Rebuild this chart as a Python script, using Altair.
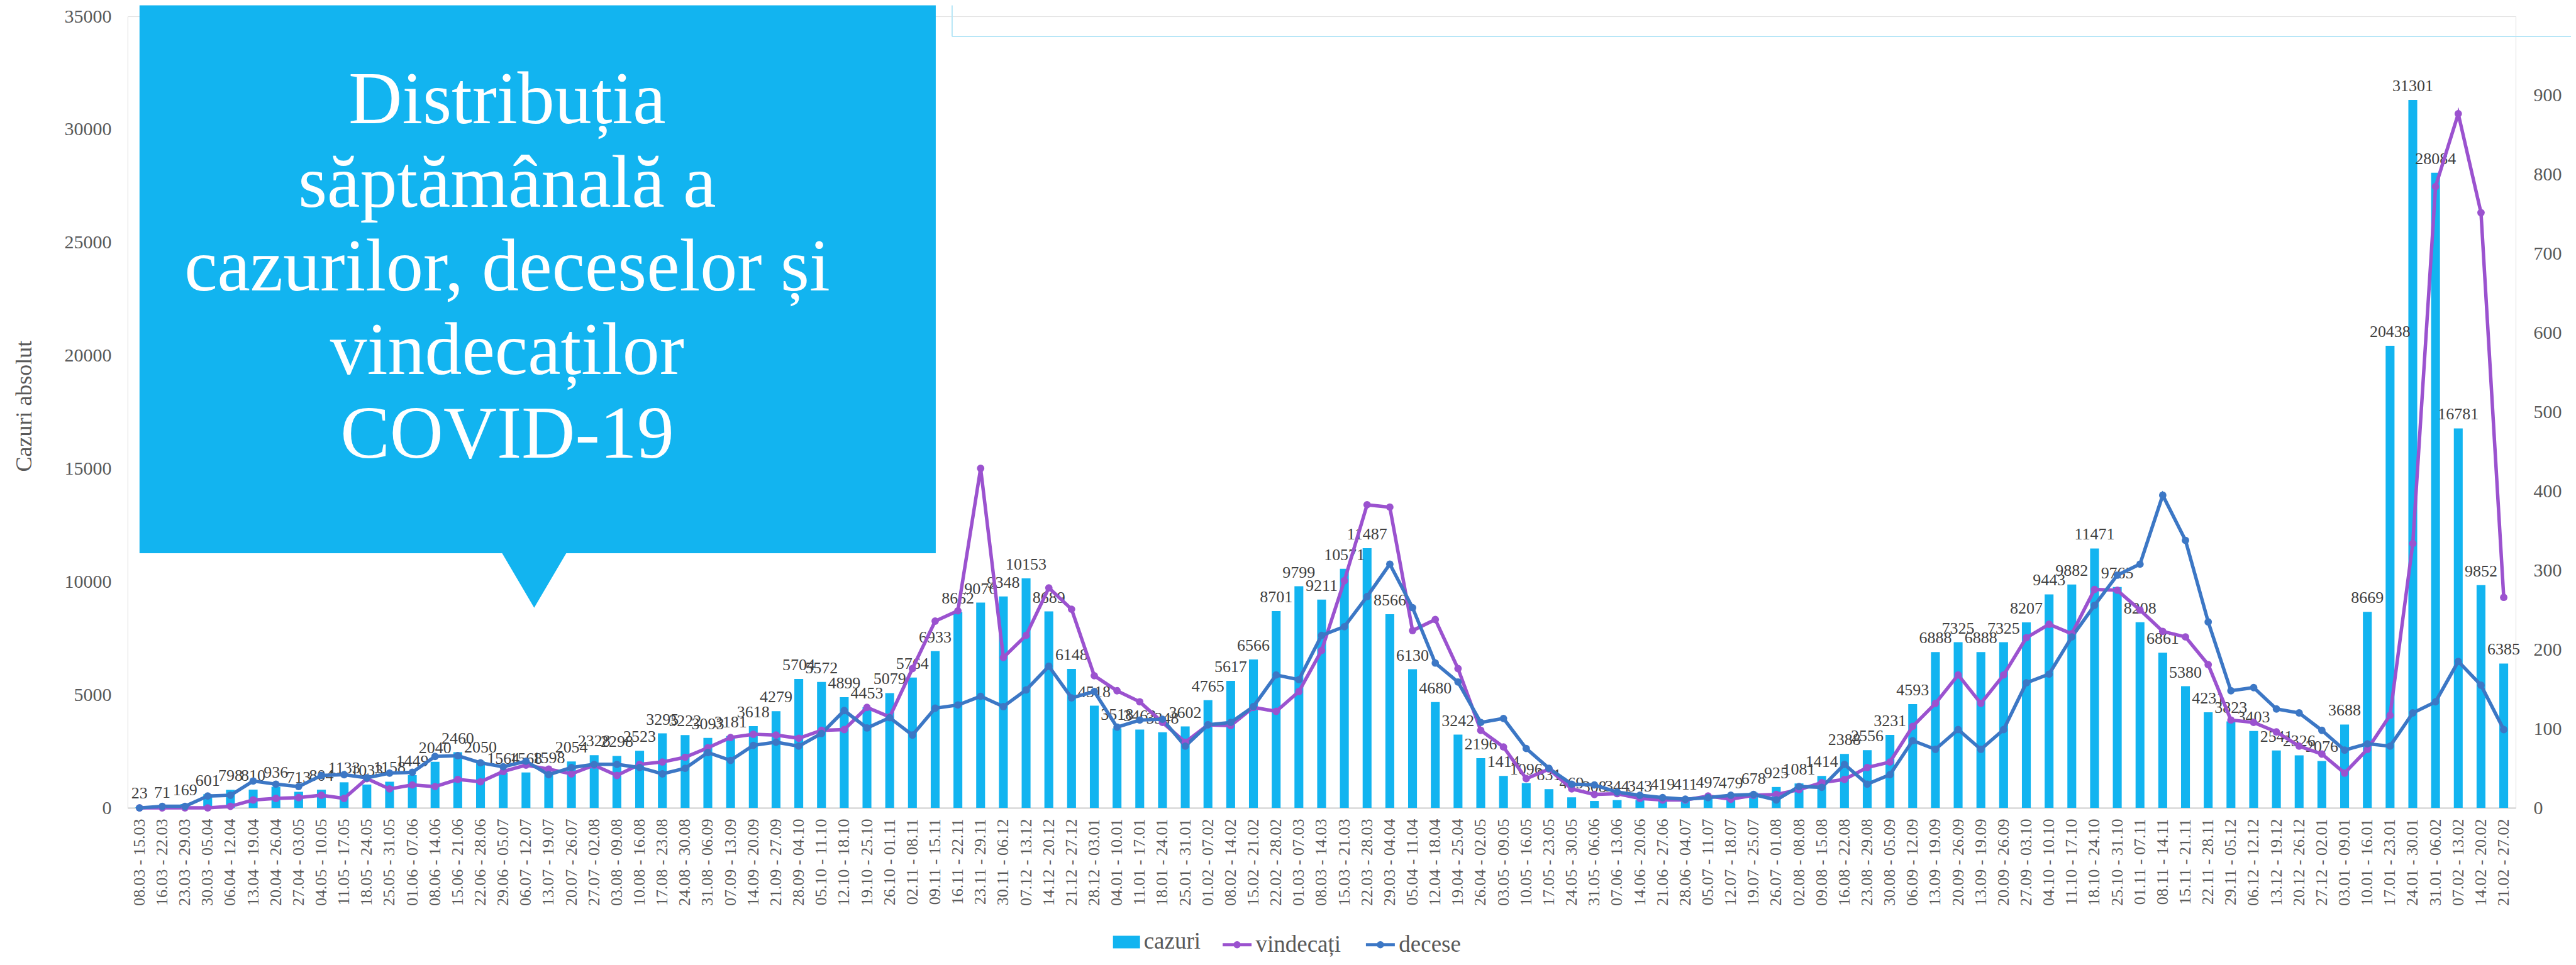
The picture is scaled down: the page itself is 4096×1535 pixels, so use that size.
import altair as alt
import pandas as pd

weeks = [
    "08.03 - 15.03", "16.03 - 22.03", "23.03 - 29.03", "30.03 - 05.04", "06.04 - 12.04",
    "13.04 - 19.04", "20.04 - 26.04", "27.04 - 03.05", "04.05 - 10.05", "11.05 - 17.05",
    "18.05 - 24.05", "25.05 - 31.05", "01.06 - 07.06", "08.06 - 14.06", "15.06 - 21.06",
    "22.06 - 28.06", "29.06 - 05.07", "06.07 - 12.07", "13.07 - 19.07", "20.07 - 26.07",
    "27.07 - 02.08", "03.08 - 09.08", "10.08 - 16.08", "17.08 - 23.08", "24.08 - 30.08",
    "31.08 - 06.09", "07.09 - 13.09", "14.09 - 20.09", "21.09 - 27.09", "28.09 - 04.10",
    "05.10 - 11.10", "12.10 - 18.10", "19.10 - 25.10", "26.10 - 01.11", "02.11 - 08.11",
    "09.11 - 15.11", "16.11 - 22.11", "23.11 - 29.11", "30.11 - 06.12", "07.12 - 13.12",
    "14.12 - 20.12", "21.12 - 27.12", "28.12 - 03.01", "04.01 - 10.01", "11.01 - 17.01",
    "18.01 - 24.01", "25.01 - 31.01", "01.02 - 07.02", "08.02 - 14.02", "15.02 - 21.02",
    "22.02 - 28.02", "01.03 - 07.03", "08.03 - 14.03", "15.03 - 21.03", "22.03 - 28.03",
    "29.03 - 04.04", "05.04 - 11.04", "12.04 - 18.04", "19.04 - 25.04", "26.04 - 02.05",
    "03.05 - 09.05", "10.05 - 16.05", "17.05 - 23.05", "24.05 - 30.05", "31.05 - 06.06",
    "07.06 - 13.06", "14.06 - 20.06", "21.06 - 27.06", "28.06 - 04.07", "05.07 - 11.07",
    "12.07 - 18.07", "19.07 - 25.07", "26.07 - 01.08", "02.08 - 08.08", "09.08 - 15.08",
    "16.08 - 22.08", "23.08 - 29.08", "30.08 - 05.09", "06.09 - 12.09", "13.09 - 19.09",
    "20.09 - 26.09", "13.09 - 19.09", "20.09 - 26.09", "27.09 - 03.10", "04.10 - 10.10",
    "11.10 - 17.10", "18.10 - 24.10", "25.10 - 31.10", "01.11 - 07.11", "08.11 - 14.11",
    "15.11 - 21.11", "22.11 - 28.11", "29.11 - 05.12", "06.12 - 12.12", "13.12 - 19.12",
    "20.12 - 26.12", "27.12 - 02.01", "03.01 - 09.01", "10.01 - 16.01", "17.01 - 23.01",
    "24.01 - 30.01", "31.01 - 06.02", "07.02 - 13.02", "14.02 - 20.02", "21.02 - 27.02",
]

cazuri = [
    23, 71, 169, 601, 798, 810, 936, 713, 804, 1133,
    1033, 1158, 1449, 2040, 2460, 2050, 1564, 1568, 1598, 2054,
    2328, 2298, 2523, 3295, 3222, 3093, 3181, 3618, 4279, 5704,
    5572, 4899, 4453, 5079, 5764, 6933, 8662, 9076, 9348, 10153,
    8689, 6148, 4518, 3518, 3463, 3348, 3602, 4765, 5617, 6566,
    8701, 9799, 9211, 10571, 11487, 8566, 6130, 4680, 3242, 2196,
    1414, 1096, 831, 469, 308, 344, 343, 419, 411, 497,
    479, 678, 925, 1081, 1414, 2388, 2556, 3231, 4593, 6888,
    7325, 6888, 7325, 8207, 9443, 9882, 11471, 9765, 8208, 6861,
    5380, 4231, 3823, 3403, 2541, 2326, 2076, 3688, 8669, 20438,
    31301, 28084, 16781, 9852, 6385,
]

vindecati = [
    0, 0, 0, 0, 2, 10, 12, 13, 16, 12,
    37, 24, 29, 27, 36, 33, 46, 54, 49, 43,
    54, 41, 55, 58, 64, 76, 89, 93, 92, 88,
    98, 99, 127, 115, 176, 236, 249, 429, 190, 218,
    278, 251, 167, 148, 134, 108, 83, 105, 104, 127,
    122, 147, 199, 287, 383, 380, 224, 238, 176, 98,
    77, 37, 49, 24, 17, 18, 12, 10, 10, 15,
    11, 16, 17, 23, 32, 36, 51, 58, 103, 132,
    168, 132, 168, 215, 232, 220, 276, 275, 250, 223,
    216, 181, 111, 108, 96, 78, 68, 44, 74, 117,
    334, 785, 877, 752, 266,
]

decese = [
    0, 2, 2, 15, 16, 34, 30, 27, 41, 42,
    38, 44, 45, 65, 66, 57, 52, 59, 42, 51,
    55, 55, 51, 43, 50, 70, 60, 79, 83, 78,
    94, 123, 101, 114, 92, 126, 130, 141, 128, 149,
    179, 139, 147, 102, 111, 112, 78, 105, 108, 128,
    168, 162, 218, 229, 267, 308, 253, 183, 159, 108,
    113, 75, 50, 30, 29, 20, 16, 13, 11, 13,
    16, 17, 10, 27, 26, 55, 30, 42, 85, 74,
    99, 74, 99, 158, 169, 216, 256, 294, 308, 395,
    338, 235, 148, 152, 125, 120, 98, 73, 81, 78,
    120, 134, 185, 155, 99,
]

bar_series = ["cazuri"]
bar_colors = ["#12B4F0"]
line_series = ["vindecați", "decese"]
line_colors = ["#9B52CF", "#3C77C5"]

title_lines = ["Distribuția", "săptămânală a", "cazurilor, deceselor și", "vindecaților", "COVID-19"]

n = len(weeks)
idx = list(range(n))
bars_df = pd.DataFrame({"i": idx, "cazuri": cazuri, "serie": bar_series * n})
lines_df = pd.DataFrame({
    "i": idx + idx,
    "valoare": vindecati + decese,
    "serie": [line_series[0]] * n + [line_series[1]] * n,
})
one = pd.DataFrame({"a": [0]})

FONT = "Liberation Serif"
GREY = "#595959"

label_expr = "[" + ",".join("'" + w + "'" for w in weeks) + "][datum.value]"

x_enc = alt.X(
    "i:O",
    scale=alt.Scale(paddingInner=0.61, paddingOuter=0.33),
    axis=alt.Axis(
        title=None, labelExpr=label_expr, labelAngle=270, labelAlign="right",
        labelBaseline="middle", labelFont=FONT, labelFontSize=26, labelColor=GREY,
        labelPadding=17, ticks=False, domainColor="#D9D9D9", domainWidth=2.5,
        labelOverlap=False, grid=False,
    ),
)

rect_path = "M-1,-0.465L1,-0.465L1,0.465L-1,0.465Z"
line_path = "M-1,0L1,0M-0.14,0A0.14,0.14 0 1 1 0.14,0A0.14,0.14 0 1 1 -0.14,0"

bar_legend = alt.Legend(
    title=None, orient="none", legendX=1568, legendY=1452, direction="horizontal",
    labelFont=FONT, labelFontSize=37, labelColor=GREY, symbolType=rect_path,
    symbolSize=1849, labelOffset=6, symbolStrokeWidth=0, symbolOpacity=1,
)
line_legend = alt.Legend(
    title=None, orient="none", legendX=1740, legendY=1452, direction="horizontal",
    labelFont=FONT, labelFontSize=37, labelColor=GREY, symbolType=line_path,
    symbolSize=2116, labelOffset=4, symbolStrokeWidth=5, columnPadding=29,
    symbolOpacity=1,
)

bars = alt.Chart(bars_df).mark_bar().encode(
    x=x_enc,
    y=alt.Y(
        "cazuri:Q",
        scale=alt.Scale(domain=[0, 35000], nice=False),
        axis=alt.Axis(
            orient="left", values=list(range(0, 35001, 5000)), format="d",
            title="Cazuri absolut", titleFont=FONT, titleFontSize=36,
            titleFontWeight="normal", titleColor=GREY, titleX=-164, titleY=620,
            titleAngle=270, titleAlign="center", titleBaseline="middle",
            labelFont=FONT, labelFontSize=30, labelColor=GREY, labelPadding=26,
            ticks=False, domain=False, grid=False,
        ),
    ),
    color=alt.Color("serie:N", scale=alt.Scale(domain=bar_series, range=bar_colors), legend=bar_legend),
)

bar_text = alt.Chart(bars_df).mark_text(
    dy=-14, baseline="alphabetic", align="center", font=FONT, fontSize=26, color="#404040"
).encode(
    x=alt.X("i:O"),
    y=alt.Y("cazuri:Q"),
    text=alt.Text("cazuri:Q", format="d"),
)

lines = alt.Chart(lines_df).mark_line(
    strokeWidth=5.5, point=alt.OverlayMarkDef(size=140, filled=True, opacity=1)
).encode(
    x=alt.X("i:O"),
    y=alt.Y(
        "valoare:Q",
        scale=alt.Scale(domain=[0, 1000], nice=False),
        axis=alt.Axis(
            orient="right", values=list(range(0, 901, 100)), format="d", title=None,
            labelFont=FONT, labelFontSize=30, labelColor=GREY, labelPadding=28,
            ticks=False, domain=False, grid=False,
        ),
    ),
    color=alt.Color("serie:N", scale=alt.Scale(domain=line_series, range=line_colors), legend=line_legend),
    order=alt.Order("i:Q"),
)

box_color = "#12B4F0"
box = alt.Chart(one).mark_rect(color=box_color).encode(
    x=alt.value(19), x2=alt.value(1286), y=alt.value(-17.5), y2=alt.value(854.5)
)
pointer = alt.Chart(one).mark_point(
    shape="M-1,-1L1,-1L0,0.706Z", size=10404, filled=True, color=box_color,
    opacity=1, strokeWidth=0,
).encode(x=alt.value(647), y=alt.value(905.5))
title_text = alt.Chart(one).mark_text(
    align="center", baseline="alphabetic", font=FONT, fontSize=118, lineHeight=133, color="white"
).encode(x=alt.value(604), y=alt.value(170), text=alt.value(title_lines))

frame_v = alt.Chart(one).mark_rule(color="#B7E6F7", strokeWidth=2).encode(
    x=alt.value(1312), y=alt.value(-17.5), y2=alt.value(32)
)
frame_h = alt.Chart(one).mark_rule(color="#B7E6F7", strokeWidth=2).encode(
    x=alt.value(1312), x2=alt.value(3888), y=alt.value(32)
)

main = alt.layer(alt.layer(bars, bar_text), lines).resolve_scale(y="independent", color="independent")

chart = alt.layer(
    frame_v, frame_h, main, box, pointer, title_text
).resolve_scale(color="independent").properties(
    width=3800, height=1260,
    autosize=alt.AutoSizeParams(type="none"),
    padding={"left": 195, "top": 17.5, "right": 88, "bottom": 241},
).configure_view(stroke=None).configure(background="white")

chart.save("out.html", embed_options={"renderer": "svg", "actions": False})
